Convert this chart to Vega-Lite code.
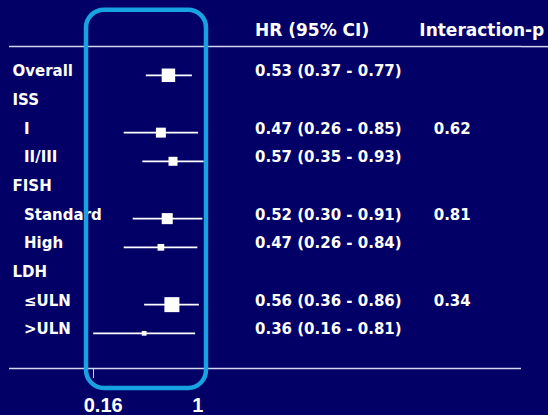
{
  "$schema": "https://vega.github.io/schema/vega-lite/v6.json",
  "background": "#020066",
  "padding": {"left": 8, "top": 0, "right": 0, "bottom": 0},
  "spacing": 0,
  "bounds": "flush",
  "config": {"view": {"stroke": null}, "concat": {"spacing": 0}},
  "resolve": {"scale": {"x": "independent", "y": "independent"}},
  "data": {"values": [
    {"row": 1, "label": "Overall", "indent": 0, "hr": 0.53, "lo": 0.37, "hi": 0.77, "weight": 81, "ci": "0.53 (0.37 - 0.77)", "p": null},
    {"row": 2, "label": "ISS", "indent": 0, "hr": null, "lo": null, "hi": null, "weight": null, "ci": null, "p": null},
    {"row": 3, "label": "I", "indent": 1, "hr": 0.47, "lo": 0.26, "hi": 0.85, "weight": 44, "ci": "0.47 (0.26 - 0.85)", "p": "0.62"},
    {"row": 4, "label": "II/III", "indent": 1, "hr": 0.57, "lo": 0.35, "hi": 0.93, "weight": 36, "ci": "0.57 (0.35 - 0.93)", "p": null},
    {"row": 5, "label": "FISH", "indent": 0, "hr": null, "lo": null, "hi": null, "weight": null, "ci": null, "p": null},
    {"row": 6, "label": "Standard", "indent": 1, "hr": 0.52, "lo": 0.30, "hi": 0.91, "weight": 54, "ci": "0.52 (0.30 - 0.91)", "p": "0.81"},
    {"row": 7, "label": "High", "indent": 1, "hr": 0.47, "lo": 0.26, "hi": 0.84, "weight": 20, "ci": "0.47 (0.26 - 0.84)", "p": null},
    {"row": 8, "label": "LDH", "indent": 0, "hr": null, "lo": null, "hi": null, "weight": null, "ci": null, "p": null},
    {"row": 9, "label": "≤ULN", "indent": 1, "hr": 0.56, "lo": 0.36, "hi": 0.86, "weight": 100, "ci": "0.56 (0.36 - 0.86)", "p": "0.34"},
    {"row": 10, "label": ">ULN", "indent": 1, "hr": 0.36, "lo": 0.16, "hi": 0.81, "weight": 10, "ci": "0.36 (0.16 - 0.81)", "p": null}
  ]},
  "hconcat": [
    {
      "width": 75, "height": 415,
      "layer": [
        {"mark": {"type": "text", "align": "left", "baseline": "alphabetic", "dy": 1, "font": "DejaVu Sans", "fontWeight": "bold", "fontSize": 15, "color": "#ffffff"},
         "encoding": {
           "x": {"field": "indent", "type": "quantitative", "scale": {"domain": [0, 1], "range": [3.5, 15]}, "axis": null},
           "y": {"field": "row", "type": "quantitative", "scale": {"domain": [-1.626, 12.849], "reverse": true, "nice": false, "zero": false}, "axis": null},
           "text": {"field": "label"}}},
        {"data": {"values": [{}]}, "mark": {"type": "rule", "color": "#d4d4ee", "strokeWidth": 1.5},
         "encoding": {"y": {"datum": 0, "type": "quantitative"}}},
        {"data": {"values": [{}]}, "mark": {"type": "rule", "color": "#d4d4ee", "strokeWidth": 1.5},
         "encoding": {"y": {"datum": 11.227, "type": "quantitative"}}}
      ]
    },
    {
      "width": 171, "height": 415,
      "layer": [
        {"data": {"values": [{}]}, "mark": {"type": "rule", "color": "#d4d4ee", "strokeWidth": 1.5},
         "encoding": {"y": {"datum": 0, "type": "quantitative", "scale": {"domain": [-1.626, 12.849], "reverse": true, "nice": false, "zero": false}, "axis": null}}},
        {"data": {"values": [{}]}, "mark": {"type": "rule", "color": "#d4d4ee", "strokeWidth": 1.5},
         "encoding": {"y": {"datum": 11.227, "type": "quantitative"}}},
        {"transform": [{"filter": "isValid(datum.hr)"}],
         "mark": {"type": "rule", "color": "#ffffff", "strokeWidth": 1.8},
         "encoding": {
           "x": {"field": "lo", "type": "quantitative", "scale": {"type": "log", "domain": [0.1382, 2.103], "nice": false},
                 "axis": {"orient": "bottom", "offset": -46.5, "values": [0.16, 1], "format": "~g", "domain": false, "grid": false, "title": null,
                          "ticks": true, "tickSize": 9, "tickWidth": 1, "tickColor": "#d4d4ee",
                          "tickOpacity": {"condition": {"test": "datum.value == 1", "value": 0}, "value": 1},
                          "labelFont": "Liberation Sans", "labelFontWeight": "bold", "labelFontSize": 20, "labelColor": "#ffffff",
                          "labelBaseline": "alphabetic", "labelPadding": 34, "labelAlign": "center",
                          "labelOffset": {"condition": {"test": "datum.value == 1", "value": -11}, "value": 9.5},
                          "labelFlush": false, "labelOverlap": false}},
           "x2": {"field": "hi"},
           "y": {"field": "row", "type": "quantitative"}}},
        {"transform": [{"filter": "isValid(datum.hr)"}],
         "mark": {"type": "point", "shape": "square", "filled": true, "opacity": 1, "color": "#ffffff", "strokeWidth": 0},
         "encoding": {
           "x": {"field": "hr", "type": "quantitative"},
           "y": {"field": "row", "type": "quantitative"},
           "size": {"field": "weight", "type": "quantitative", "scale": {"domain": [0, 100], "range": [0, 225]}, "legend": null}}},
        {"data": {"values": [{}]},
         "mark": {"type": "rect", "filled": false, "color": "#17a2e2", "strokeWidth": 4.5, "cornerRadius": 18},
         "encoding": {
           "x": {"datum": 0.1427, "type": "quantitative"},
           "x2": {"datum": 0.964},
           "y": {"datum": -1.288, "type": "quantitative"},
           "y2": {"datum": 11.907}}}
      ]
    },
    {
      "width": 164, "height": 415,
      "layer": [
        {"data": {"values": [{}]}, "mark": {"type": "rule", "color": "#d4d4ee", "strokeWidth": 1.5},
         "encoding": {"y": {"datum": 0, "type": "quantitative", "scale": {"domain": [-1.626, 12.849], "reverse": true, "nice": false, "zero": false}, "axis": null}}},
        {"data": {"values": [{}]}, "mark": {"type": "rule", "color": "#d4d4ee", "strokeWidth": 1.5},
         "encoding": {"y": {"datum": 11.227, "type": "quantitative"}}},
        {"data": {"values": [{}]},
         "mark": {"type": "text", "text": "HR (95% CI)", "align": "left", "baseline": "alphabetic", "font": "DejaVu Sans", "fontWeight": "bold", "fontSize": 17, "color": "#ffffff"},
         "encoding": {
           "x": {"datum": 0, "type": "quantitative", "scale": {"domain": [0, 1]}, "axis": null},
           "y": {"datum": -0.353, "type": "quantitative"}}},
        {"transform": [{"filter": "isValid(datum.ci)"}],
         "mark": {"type": "text", "align": "left", "baseline": "alphabetic", "dy": 1, "font": "DejaVu Sans", "fontWeight": "bold", "fontSize": 15, "color": "#ffffff"},
         "encoding": {
           "x": {"datum": 0, "type": "quantitative"},
           "y": {"field": "row", "type": "quantitative"},
           "text": {"field": "ci"}}}
      ]
    },
    {
      "width": 102, "height": 415,
      "layer": [
        {"data": {"values": [{}]}, "mark": {"type": "rule", "color": "#d4d4ee", "strokeWidth": 1.5},
         "encoding": {"y": {"datum": 0, "type": "quantitative", "scale": {"domain": [-1.626, 12.849], "reverse": true, "nice": false, "zero": false}, "axis": null}}},
        {"data": {"values": [{}]}, "mark": {"type": "rule", "color": "#d4d4ee", "strokeWidth": 1.5},
         "encoding": {"y": {"datum": 11.227, "type": "quantitative"}}},
        {"data": {"values": [{}]},
         "mark": {"type": "text", "text": "Interaction-p", "align": "left", "baseline": "alphabetic", "font": "DejaVu Sans", "fontWeight": "bold", "fontSize": 17, "color": "#ffffff"},
         "encoding": {
           "x": {"datum": 0, "type": "quantitative", "scale": {"domain": [0, 1], "range": [0.3, 14.7]}, "axis": null},
           "y": {"datum": -0.353, "type": "quantitative"}}},
        {"transform": [{"filter": "isValid(datum.p)"}],
         "mark": {"type": "text", "align": "left", "baseline": "alphabetic", "dy": 1, "font": "DejaVu Sans", "fontWeight": "bold", "fontSize": 15, "color": "#ffffff"},
         "encoding": {
           "x": {"datum": 1, "type": "quantitative"},
           "y": {"field": "row", "type": "quantitative"},
           "text": {"field": "p"}}}
      ]
    },
    {
      "width": 28, "height": 415,
      "layer": [
        {"data": {"values": [{}]}, "mark": {"type": "rule", "color": "#d4d4ee", "strokeWidth": 1.5},
         "encoding": {"y": {"datum": 0, "type": "quantitative", "scale": {"domain": [-1.626, 12.849], "reverse": true, "nice": false, "zero": false}, "axis": null}}}
      ]
    }
  ]
}
